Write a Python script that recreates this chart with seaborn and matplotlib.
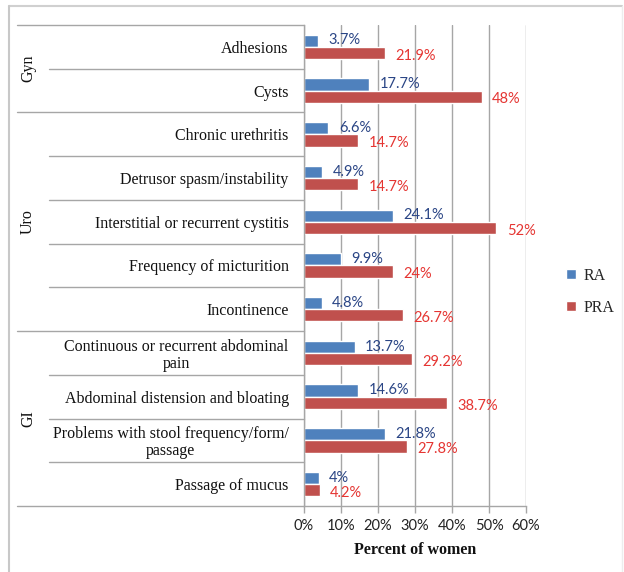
import matplotlib
matplotlib.use("Agg")
import matplotlib.pyplot as plt
import matplotlib.transforms as mtransforms
from matplotlib.lines import Line2D
import seaborn as sns
import pandas as pd

# ---- data ----
categories = [
    "Adhesions",
    "Cysts",
    "Chronic urethritis",
    "Detrusor spasm/instability",
    "Interstitial or recurrent cystitis",
    "Frequency of micturition",
    "Incontinence",
    "Continuous or recurrent abdominal\npain",
    "Abdominal distension and bloating",
    "Problems with stool frequency/form/\npassage",
    "Passage of mucus",
]
ra_values = [3.7, 17.7, 6.6, 4.9, 24.1, 9.9, 4.8, 13.7, 14.6, 21.8, 4.0]
pra_values = [21.9, 48.0, 14.7, 14.7, 52.0, 24.0, 26.7, 29.2, 38.7, 27.8, 4.2]
series_names = ["RA", "PRA"]
groups = ["Gyn", "Uro", "GI"]
group_sizes = [2, 5, 4]
x_ticks = [0, 10, 20, 30, 40, 50, 60]
x_tick_labels = ["0%", "10%", "20%", "30%", "40%", "50%", "60%"]

df = pd.DataFrame({
    "Category": categories * 2,
    "Series": [series_names[0]] * len(categories) + [series_names[1]] * len(categories),
    "Value": ra_values + pra_values,
})

# ---- style ----
sns.set_theme(style="white")
SERIF = ["Liberation Serif", "DejaVu Serif"]
SANS = ["Lato", "DejaVu Sans"]
plt.rcParams["font.family"] = SERIF

colors = {"RA": "#4F81BD", "PRA": "#C0504D"}
label_colors = {"RA": "#2A4585", "PRA": "#E53532"}
label_dy = {"RA": 0.2, "PRA": -2.0}
line_col = "#A6A6A6"

W, H = 624, 572
fig = plt.figure(figsize=(W / 100, H / 100), dpi=100)
x0, x1, y0, y1 = 304, 526, 25, 506
ax = fig.add_axes([x0 / W, 1 - y1 / H, (x1 - x0) / W, (y1 - y0) / H])

sns.barplot(data=df, y="Category", x="Value", hue="Series", order=categories,
            hue_order=series_names, palette=colors, width=0.56, orient="h",
            saturation=1, ax=ax, legend=True)

ax.set_xlim(0, 60)
ax.set_ylim(len(categories) - 0.5, -0.5)
ax.set_xticks(x_ticks)
ax.set_xticklabels(x_tick_labels, fontfamily=SANS, fontsize=10.5, color="#222222")
ax.tick_params(axis="x", length=5, width=1, color=line_col, pad=4, direction="out", bottom=True)
ax.tick_params(axis="y", length=0, pad=11)
ax.set_yticks(range(len(categories)))
ax.set_yticklabels(categories, fontsize=11.5, color="#111111")
for t in ax.get_yticklabels():
    t.set_multialignment("center")
    t.set_linespacing(1.05)
ax.set_ylabel("")
ax.set_xlabel("Percent of women", fontsize=11.5, fontweight="bold", labelpad=7, color="#111111")

ax.grid(axis="x", color=line_col, linewidth=1)
ax.set_axisbelow(True)
for s in ["top", "right"]:
    ax.spines[s].set_visible(False)
for s in ["left", "bottom"]:
    ax.spines[s].set_color(line_col)
    ax.spines[s].set_linewidth(1)

# value labels
for cont, name in zip(ax.containers, series_names):
    for bar in cont:
        v = bar.get_width()
        yc = bar.get_y() + bar.get_height() / 2
        ax.annotate(f"{v:g}%", xy=(v, yc), xytext=(7.5, label_dy[name]), textcoords="offset points",
                    ha="left", va="center", fontsize=10.5, fontfamily=SANS,
                    color=label_colors[name])

# separator lines on the left
trans = mtransforms.blended_transform_factory(ax.transAxes, ax.transData)
ax_w = x1 - x0
xg = (17 - x0) / ax_w
xi = (49 - x0) / ax_w
boundaries = [i - 0.5 for i in range(len(categories) + 1)]
group_edges = [-0.5]
for gs in group_sizes:
    group_edges.append(group_edges[-1] + gs)
for b in boundaries:
    start = xg if b in group_edges else xi
    ax.add_line(Line2D([start, 0], [b, b], transform=trans, color=line_col,
                       linewidth=1, clip_on=False))

# group labels
for g, lo, hi in zip(groups, group_edges[:-1], group_edges[1:]):
    ax.text((28 - x0) / ax_w, (lo + hi) / 2, g, transform=trans, rotation=90,
            ha="center", va="center", fontsize=11.5, color="#111111")

# legend
handles, labels = ax.get_legend_handles_labels()
ax.get_legend().remove()
fig.legend(handles, labels, loc="center left", bbox_to_anchor=(552 / W, 1 - 292 / H),
           frameon=False, fontsize=11.5, handlelength=0.6, handleheight=0.6,
           handletextpad=0.5, labelspacing=1.0)

# outer frame
fig.add_artist(Line2D([9 / W, 622 / W], [1 - 6 / H, 1 - 6 / H], transform=fig.transFigure,
                      color="#D0D0D0", linewidth=1.5))
fig.add_artist(Line2D([9 / W, 9 / W], [0, 1 - 6 / H], transform=fig.transFigure,
                      color="#C8C8C8", linewidth=1.5))
fig.add_artist(Line2D([622 / W, 622 / W], [0, 1 - 6 / H], transform=fig.transFigure,
                      color="#EDEDED", linewidth=1))

fig.savefig("out.png", dpi=100)
